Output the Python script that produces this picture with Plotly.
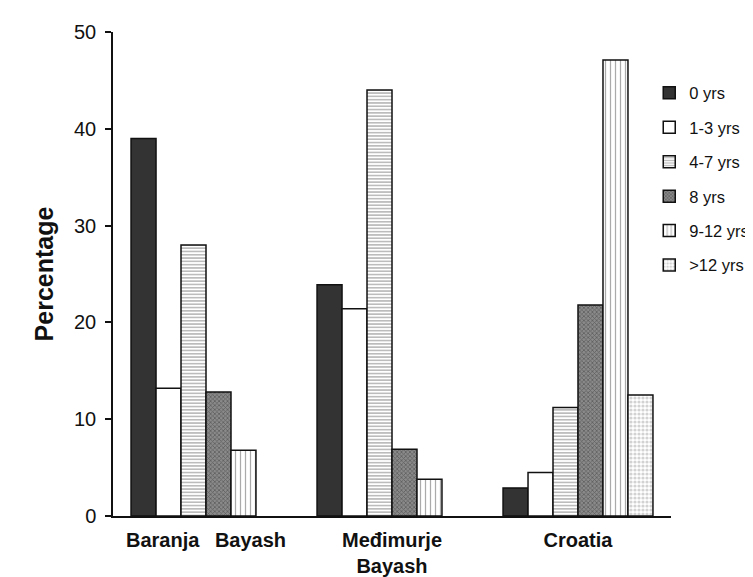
import plotly.graph_objects as go

categories = ["Baranja\u2002\u00a0Bayash", "Međimurje<br>Bayash", "Croatia"]
series_names = ["0 yrs", "1-3 yrs", "4-7 yrs", "8 yrs", "9-12 yrs", ">12 yrs"]
v_0 = [39.0, 23.9, 2.9]
v_1_3 = [13.2, 21.4, 4.5]
v_4_7 = [28.0, 44.0, 11.2]
v_8 = [12.8, 6.9, 21.8]
v_9_12 = [6.8, 3.8, 47.1]
v_12p = [None, None, 12.5]
y_ticks = [0, 10, 20, 30, 40, 50]

values = [v_0, v_1_3, v_4_7, v_8, v_9_12, v_12p]
styles = [
    dict(color="#333333"),
    dict(color="white"),
    dict(color="white", pattern=dict(shape="-", fgcolor="#6a6a6a", bgcolor="white", size=3.3, solidity=0.45)),
    dict(color="#6f6f6f", pattern=dict(shape="x", fgcolor="#333333", bgcolor="#8a8a8a", size=3, solidity=0.45)),
    dict(color="white", pattern=dict(shape="|", fgcolor="#555555", bgcolor="white", size=5, solidity=0.25)),
    dict(color="white", pattern=dict(shape=".", fgcolor="#a5a5a5", bgcolor="white", size=4, solidity=0.5)),
]

fig = go.Figure()
for i, (name, vals, st) in enumerate(zip(series_names, values, styles)):
    marker = dict(line=dict(color="#111111", width=1.5))
    marker.update(st)
    fig.add_trace(go.Bar(name=name, x=categories, y=vals, marker=marker, legendgroup=name))

fig.update_layout(
    width=753, height=577,
    margin=dict(l=105, r=90, t=24, b=69, autoexpand=False),
    plot_bgcolor="white", paper_bgcolor="white",
    barmode="group", bargap=0.194, bargroupgap=0,
    font=dict(family="Liberation Sans, Arial, sans-serif", color="#111111"),
    showlegend=True,
    legend=dict(x=0.961, y=0.91, xanchor="left", yanchor="top", font=dict(size=16.5),
                itemwidth=30, tracegroupgap=10, bgcolor="rgba(0,0,0,0)"),
)
fig.update_yaxes(
    range=[0, 50], tickvals=y_ticks, showgrid=False, zeroline=False,
    showline=True, linecolor="#111111", linewidth=1.5,
    ticks="outside", ticklen=6, tickcolor="#111111", tickwidth=1.5,
    tickfont=dict(size=20), ticklabelstandoff=5,
    title=dict(text="Percentage", font=dict(size=25, weight="bold"), standoff=13),
)
fig.update_xaxes(
    showgrid=False, showline=True, linecolor="#111111", linewidth=1.5,
    ticks="", tickfont=dict(size=20, weight="bold"), ticklabelstandoff=5,
)
fig.write_html("out.html")
